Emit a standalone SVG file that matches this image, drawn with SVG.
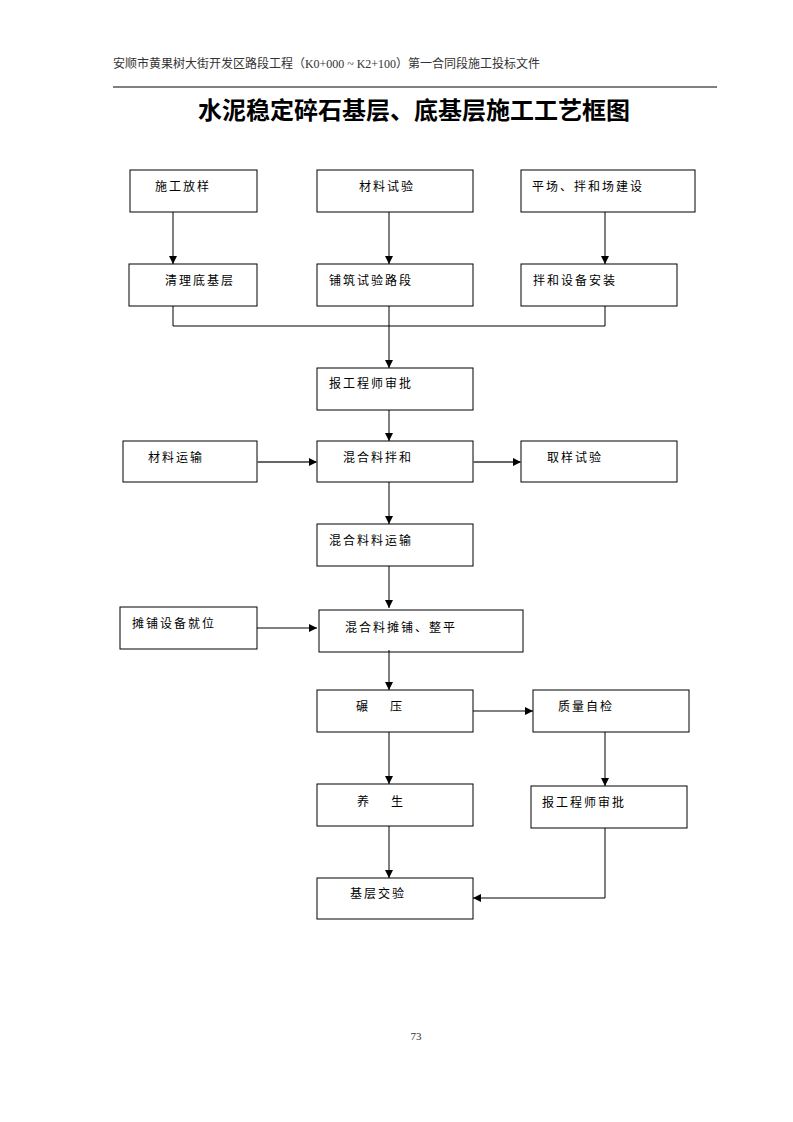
<svg xmlns="http://www.w3.org/2000/svg" width="793" height="1122" viewBox="0 0 793 1122">
<style>
.box{fill:#fff;stroke:#000;stroke-width:1}
.t{font-family:"Liberation Serif","Noto Sans CJK SC",serif;font-size:12px;letter-spacing:2px;fill:#000}
.c{fill:none;stroke:#000;stroke-width:1}
.g{fill:none;stroke:#666;stroke-width:2}
</style>
<defs>
<marker id="ah" viewBox="0 0 10 10" refX="10" refY="5" markerWidth="8" markerHeight="8" markerUnits="userSpaceOnUse" orient="auto">
<path d="M0,0 L10,5 L0,10 z" fill="#000"/>
</marker>
</defs>
<rect width="793" height="1122" fill="#fff"/>
<text x="113" y="68" font-family="Liberation Serif,'Noto Sans CJK SC',serif" font-size="12" fill="#333" textLength="427">安顺市黄果树大街开发区路段工程（K0+000 ~ K2+100）第一合同段施工投标文件</text>
<line x1="113" y1="87" x2="717" y2="87" stroke="#000" stroke-width="1"/>
<text x="198" y="119" font-family="'Liberation Sans','Noto Sans CJK SC',sans-serif" font-size="24" font-weight="bold" fill="#000" textLength="432">水泥稳定碎石基层、底基层施工工艺框图</text>

<g id="n1"><rect class="box" x="130" y="170" width="127" height="42"/><text class="t" x="155" y="191">施工放样</text></g>
<g id="n2"><rect class="box" x="317" y="170" width="156" height="42"/><text class="t" x="359" y="191">材料试验</text></g>
<g id="n3"><rect class="box" x="521" y="170" width="174" height="42"/><text class="t" x="532" y="191">平场、拌和场建设</text></g>
<g id="n4"><rect class="box" x="129" y="264" width="128" height="42"/><text class="t" x="165" y="285">清理底基层</text></g>
<g id="n5"><rect class="box" x="317" y="264" width="156" height="42"/><text class="t" x="329" y="285">铺筑试验路段</text></g>
<g id="n6"><rect class="box" x="521" y="264" width="156" height="42"/><text class="t" x="533" y="285">拌和设备安装</text></g>
<g id="n7"><rect class="box" x="317" y="368" width="156" height="42"/><text class="t" x="329" y="388">报工程师审批</text></g>
<g id="n8"><rect class="box" x="123" y="441" width="134" height="41"/><text class="t" x="148" y="462">材料运输</text></g>
<g id="n9"><rect class="box" x="317" y="441" width="156" height="41"/><text class="t" x="343" y="462">混合料拌和</text></g>
<g id="n10"><rect class="box" x="521" y="441" width="156" height="41"/><text class="t" x="547" y="462">取样试验</text></g>
<g id="n11"><rect class="box" x="317" y="524" width="156" height="42"/><text class="t" x="329" y="545">混合料料运输</text></g>
<g id="n12"><rect class="box" x="120" y="607" width="137" height="42"/><text class="t" x="132" y="628">摊铺设备就位</text></g>
<g id="n13"><rect class="box" x="319" y="610" width="204" height="42"/><text class="t" x="345" y="632">混合料摊铺、整平</text></g>
<g id="n14"><rect class="box" x="317" y="690" width="156" height="42"/><text class="t" x="356" y="711" xml:space="preserve">碾    压</text></g>
<g id="n15"><rect class="box" x="533" y="690" width="156" height="42"/><text class="t" x="558" y="711">质量自检</text></g>
<g id="n16"><rect class="box" x="317" y="784" width="156" height="42"/><text class="t" x="357" y="806" xml:space="preserve">养    生</text></g>
<g id="n17"><rect class="box" x="531" y="786" width="156" height="42"/><text class="t" x="542" y="807">报工程师审批</text></g>
<g id="n18"><rect class="box" x="317" y="878" width="156" height="41"/><text class="t" x="350" y="898">基层交验</text></g>

<g id="connectors">
<line class="c" x1="173" y1="212" x2="173" y2="264" marker-end="url(#ah)"/>
<line class="c" x1="389" y1="212" x2="389" y2="264" marker-end="url(#ah)"/>
<line class="c" x1="605" y1="212" x2="605" y2="264" marker-end="url(#ah)"/>
<polyline class="c" points="173,306 173,326 605,326 605,306"/>
<line class="c" x1="389" y1="306" x2="389" y2="368" marker-end="url(#ah)"/>
<line class="c" x1="389" y1="410" x2="389" y2="441" marker-end="url(#ah)"/>
<line class="g" x1="257" y1="462" x2="317" y2="462" marker-end="url(#ah)"/>
<line class="g" x1="473" y1="462" x2="521" y2="462" marker-end="url(#ah)"/>
<line class="c" x1="389" y1="482" x2="389" y2="524" marker-end="url(#ah)"/>
<line class="c" x1="389" y1="566" x2="389" y2="608" marker-end="url(#ah)"/>
<line class="c" x1="257" y1="628" x2="317" y2="628" marker-end="url(#ah)"/>
<line class="c" x1="389" y1="650" x2="389" y2="690" marker-end="url(#ah)"/>
<line class="c" x1="473" y1="711" x2="533" y2="711" marker-end="url(#ah)"/>
<line class="c" x1="389" y1="732" x2="389" y2="784" marker-end="url(#ah)"/>
<line class="c" x1="605" y1="732" x2="605" y2="786" marker-end="url(#ah)"/>
<line class="c" x1="389" y1="826" x2="389" y2="878" marker-end="url(#ah)"/>
<polyline class="c" points="605,828 605,898 473,898" marker-end="url(#ah)"/>
</g>

<text x="416" y="1040" font-family="'Liberation Serif',serif" font-size="11" fill="#333" text-anchor="middle">73</text>
</svg>
